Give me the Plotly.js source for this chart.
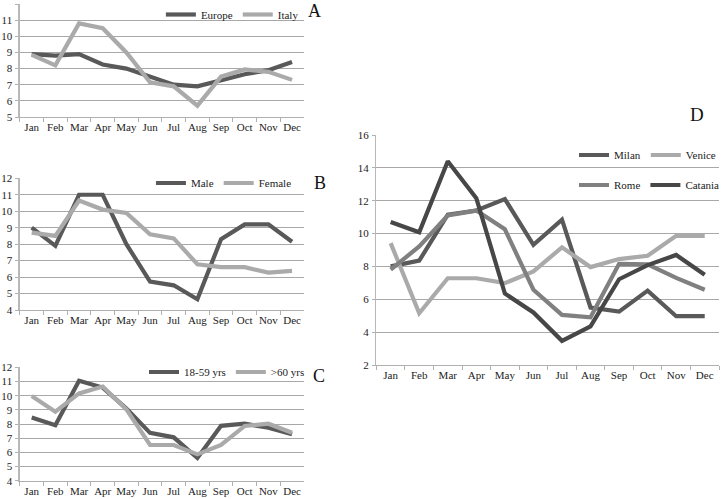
<!DOCTYPE html>
<html><head><meta charset="utf-8">
<script src="https://cdn.plot.ly/plotly-3.0.1.min.js"></script>
<style>html,body{margin:0;padding:0;background:#fff}#chart{width:725px;height:499px}</style>
</head><body><div id="chart"></div>
<script>
const months = ["Jan","Feb","Mar","Apr","May","Jun","Jul","Aug","Sep","Oct","Nov","Dec"];
// Panel A
const europe = [8.9,8.8,8.9,8.25,8.0,7.5,7.0,6.9,7.3,7.65,7.9,8.4];
const italy  = [8.85,8.2,10.8,10.5,9.0,7.15,6.9,5.7,7.5,7.95,7.8,7.3];
// Panel B
const male   = [9.0,7.9,11.0,11.0,8.0,5.72,5.5,4.65,8.3,9.2,9.2,8.15];
const female = [8.7,8.5,10.65,10.1,9.9,8.6,8.35,6.78,6.6,6.6,6.27,6.38];
// Panel C
const age1859 = [8.45,7.92,11.05,10.57,9.1,7.37,7.06,5.6,7.87,8.02,7.74,7.27];
const age60   = [9.98,8.87,10.16,10.64,9.03,6.52,6.52,5.86,6.52,7.86,8.02,7.38];
// Panel D
const milan   = [8.0,8.35,11.15,11.4,12.1,9.32,10.85,5.5,5.25,6.53,4.97,4.97];
const venice  = [9.42,5.15,7.28,7.28,6.98,7.7,9.16,7.96,8.45,8.65,9.86,9.86];
const rome    = [7.8,9.22,11.1,11.4,10.26,6.58,5.05,4.9,8.16,8.12,7.3,6.58];
const catania = [10.7,10.08,14.4,12.15,6.35,5.2,3.47,4.35,7.22,8.08,8.7,7.49];

const DARK = "#595959", LIGHT = "#aaaaaa", MID = "#808080", DARKER = "#474747";
const FONT = "Times New Roman";

function tr(y, name, color, xa, ya, leg){
  return {x: months, y: y, name: name, type: "scatter", mode: "lines",
    line: {color: color, width: 4.2}, xaxis: xa, yaxis: ya, legend: leg};
}
const data = [
  tr(europe,"Europe",DARK,"x","y","legend"),
  tr(italy,"Italy",LIGHT,"x","y","legend"),
  tr(male,"Male",DARK,"x2","y2","legend2"),
  tr(female,"Female",LIGHT,"x2","y2","legend2"),
  tr(age1859,"18-59 yrs",DARK,"x3","y3","legend3"),
  tr(age60,">60 yrs",LIGHT,"x3","y3","legend3"),
  tr(milan,"Milan",DARK,"x4","y4","legend4"),
  tr(venice,"Venice",LIGHT,"x4","y4","legend4"),
  tr(rome,"Rome",MID,"x4","y4","legend5"),
  tr(catania,"Catania",DARKER,"x4","y4","legend5")
];

function xax(dom, anchor){
  return {domain: dom, anchor: anchor, type: "category", range: [-0.5, 11.5],
    showgrid: false, showline: true, linecolor: "#b0b0b0", linewidth: 1,
    ticks: "outside", tickson: "boundaries", ticklen: 4, tickcolor: "#b0b0b0",
    tickangle: 0, automargin: false,
    tickfont: {family: FONT, size: 11, color: "#222"}, fixedrange: true};
}
function yax(dom, anchor, r, dt){
  return {domain: dom, anchor: anchor, range: r, dtick: dt, tick0: 0,
    showgrid: true, gridcolor: "#a8a8a8", gridwidth: 1, zeroline: false,
    showline: true, linecolor: "#b8b8b8", linewidth: 1.5,
    ticks: "outside", ticklen: 3, tickcolor: "#b0b0b0", automargin: false,
    ticklabelstandoff: 1,
    tickfont: {family: FONT, size: 11, color: "#222"}, fixedrange: true};
}
function leg(x, y, ya){
  return {x: x, y: y, xanchor: "left", yanchor: ya || "middle", orientation: "h",
    bgcolor: "rgba(0,0,0,0)", font: {family: FONT, size: 11, color: "#222"},
    itemwidth: 30, tracegroupgap: 0, traceorder: "normal"};
}
function lab(t, x, y, s){
  return {text: t, x: x, y: y, xref: "paper", yref: "paper", showarrow: false,
    xanchor: "center", yanchor: "middle", font: {family: FONT, size: s, color: "#111"}};
}
const W = 725, H = 499;
const layout = {
  width: W, height: H, margin: {l: 0, r: 0, t: 0, b: 0},
  font: {family: FONT},
  paper_bgcolor: "#fff", plot_bgcolor: "rgba(0,0,0,0)",
  xaxis:  xax([20/W, 306/W], "y"),
  yaxis:  yax([1-117/H, 1-4/H], "x", [5, 12], 1),
  xaxis2: xax([20/W, 306/W], "y2"),
  yaxis2: yax([1-310/H, 1-178.3/H], "x2", [4, 12], 1),
  xaxis3: xax([20/W, 306/W], "y3"),
  yaxis3: yax([1-480.7/H, 1-367.3/H], "x3", [4, 12], 1),
  xaxis4: xax([379/W, 724/W], "y4"),
  yaxis4: yax([1-365/H, 1-135/H], "x4", [2, 16], 2),
  legend:  leg(162/W, 1, "top"),
  legend2: leg(152/W, 1-183/H),
  legend3: leg(145/W, 1-372/H),
  legend4: leg(578/W, 1-155/H),
  legend5: leg(578/W, 1-185/H),
  annotations: [lab("A", 317/W, 1-11/H, 18), lab("B", 322/W, 1-183/H, 18),
                lab("C", 321/W, 1-376/H, 18), lab("D", 702/W, 1-114/H, 19)],
  showlegend: true
};
Plotly.newPlot("chart", data, layout, {staticPlot: true, displayModeBar: false});
</script></body></html>
